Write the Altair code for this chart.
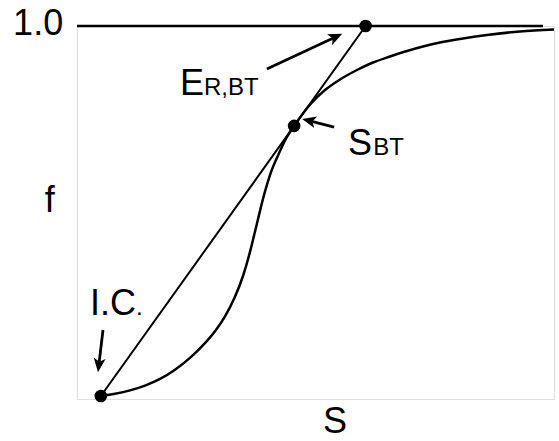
import numpy as np
import pandas as pd
import altair as alt

# Fractional-flow curve f(S)
sat = [0.050, 0.0797, 0.1111, 0.1426, 0.1740, 0.2055, 0.2369, 0.2683,
       0.2893, 0.3103, 0.3312, 0.3480, 0.3627, 0.3774, 0.3920, 0.4067,
       0.4235, 0.4392, 0.4552, 0.4906, 0.5199, 0.5514, 0.5849, 0.6205,
       0.6562, 0.6918, 0.7254, 0.7610, 0.8092, 0.8595, 0.9287, 1.0]
frac = [0.008, 0.0141, 0.0231, 0.0359, 0.0539, 0.0786, 0.1102, 0.1496,
        0.1815, 0.2217, 0.2740, 0.3298, 0.3944, 0.4713, 0.5464, 0.6083,
        0.6590, 0.7008, 0.7322, 0.7922, 0.8284, 0.8566, 0.8807, 0.9021,
        0.9182, 0.9330, 0.9450, 0.9558, 0.9665, 0.9759, 0.9853, 0.9906]

# Key points: initial condition, breakthrough saturation, recovery at breakthrough
pt_names = ["I.C.", "S_BT", "E_R,BT"]
pt_sat = [0.050, 0.4552, 0.605]
pt_frac = [0.008, 0.7322, 1.0]

# Arrows pointing at the key points (tail -> tip)
arrow_tail_s = [0.0545, 0.539, 0.398]
arrow_tail_f = [0.185, 0.729, 0.885]
arrow_tip_s = [0.044, 0.472, 0.556]
arrow_tip_f = [0.072, 0.751, 0.979]

# Text labels: main part and subscript
lab_text = ["1.0", "f", "S", "E", "S", "I.C"]
lab_s = [-0.029, -0.057, 0.541, 0.216, 0.568, 0.027]
lab_f = [0.976, 0.501, -0.091, 0.815, 0.654, 0.225]
lab_align = ["right", "center", "center", "left", "left", "left"]
sub_text = ["R,BT", "BT", "."]
sub_s = [0.266, 0.621, 0.1237]
sub_f = [0.815, 0.654, 0.225]

W, H = 477, 373
FONT = "Liberation Sans"

curve_df = pd.DataFrame({"S": sat, "f": frac})
pts_df = pd.DataFrame({"name": pt_names, "S": pt_sat, "f": pt_frac})
tangent_df = pd.DataFrame({"S": [pt_sat[0], pt_sat[2]], "f": [pt_frac[0], pt_frac[2]]})

# arrow geometry in screen space: head direction and shortened shaft
ts, tf = np.array(arrow_tail_s), np.array(arrow_tail_f)
hs, hf = np.array(arrow_tip_s), np.array(arrow_tip_f)
dx, dy = (hs - ts) * W, -(hf - tf) * H
length = np.hypot(dx, dy)
ang = np.degrees(np.arctan2(dy, dx)) % 360
head_len = 14.0
back = 0.7 * head_len / length
arrows_df = pd.DataFrame({
    "s0": ts, "f0": tf,
    "s1": hs - (hs - ts) * back, "f1": hf - (hf - tf) * back,
    "ts": hs, "tf": hf, "ang": ang,
})

labels_df = pd.DataFrame({"t": lab_text, "S": lab_s, "f": lab_f, "al": lab_align})
subs_df = pd.DataFrame({"t": sub_text, "S": sub_s, "f": sub_f})

xs = alt.Scale(domain=[0, 1], nice=False, zero=False)
ys = alt.Scale(domain=[0, 1], nice=False, zero=False)
ax = alt.Axis(domain=True, domainColor="black", domainWidth=3, ticks=False,
              labels=False, grid=False, title=None)


def X(field, axis=None):
    return alt.X(field, type="quantitative", scale=xs, axis=axis)


def Y(field, axis=None):
    return alt.Y(field, type="quantitative", scale=ys, axis=axis)


curve = alt.Chart(curve_df).mark_line(
    color="black", strokeWidth=2.5, interpolate="monotone"
).encode(x=X("S", ax), y=Y("f", ax))

top_line = alt.Chart(pd.DataFrame({"a": [0.0], "b": [0.977], "f": [1.0]})).mark_rule(
    color="black", strokeWidth=2.5
).encode(x=X("a"), x2="b", y=Y("f"))

tangent = alt.Chart(tangent_df).mark_line(color="black", strokeWidth=2).encode(
    x=X("S"), y=Y("f")
)

dots = alt.Chart(pts_df).mark_circle(color="black", opacity=1, size=160).encode(
    x=X("S"), y=Y("f")
)

shafts = alt.Chart(arrows_df).mark_rule(color="black", strokeWidth=2.8).encode(
    x=X("s0"), y=Y("f0"), x2="s1", y2="f1"
)

heads = alt.Chart(arrows_df).mark_point(
    shape="M0,0L-2,-0.85L-1.5,0L-2,0.85Z", filled=True, color="black",
    opacity=1, size=196, strokeWidth=0
).encode(x=X("ts"), y=Y("tf"), angle=alt.Angle("ang:Q", scale=None))

label_layers = []
for al in ["right", "center", "left"]:
    label_layers.append(
        alt.Chart(labels_df[labels_df["al"] == al]).mark_text(
            font=FONT, fontSize=36, baseline="alphabetic", align=al, color="black"
        ).encode(x=X("S"), y=Y("f"), text="t:N")
    )

subs = alt.Chart(subs_df).mark_text(
    font=FONT, fontSize=24, baseline="alphabetic", align="left", color="black"
).encode(x=X("S"), y=Y("f"), text="t:N")

chart = alt.layer(
    curve, top_line, tangent, shafts, heads, dots, *label_layers, subs
).properties(
    width=W, height=H,
    autosize=alt.AutoSizeParams(type="none"),
    padding={"left": 77, "top": 26, "right": 5, "bottom": 42},
).configure_view(stroke=None).configure(background="white")

chart.save("out.html", embed_options={"renderer": "svg", "actions": False})
